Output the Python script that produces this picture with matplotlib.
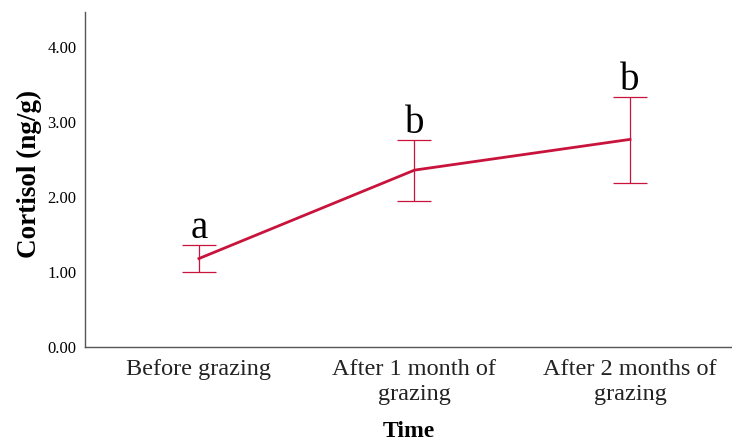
import matplotlib
matplotlib.use("Agg")
import matplotlib.pyplot as plt
import numpy as np

plt.rcParams['font.family'] = ['Liberation Serif', 'DejaVu Serif']

# data
groups = ['Before grazing', 'After 1 month of\ngrazing', 'After 2 months of\ngrazing']
cortisol_mean = [1.18, 2.36, 2.77]
ci_upper = [1.36, 2.76, 3.33]
ci_lower = [1.00, 1.95, 2.19]
letters = ['a', 'b', 'b']
yticks = [0, 1, 2, 3, 4]

x = np.arange(len(groups))
mean = np.array(cortisol_mean)
err = np.array([mean - np.array(ci_lower), np.array(ci_upper) - mean])

red = '#c8143c'

fig = plt.figure(figsize=(7.32, 4.44), dpi=100)
ax = fig.add_axes([0.116, 0.2185, 0.884, 0.7545])

ax.errorbar(x, mean, yerr=err, fmt='none', ecolor=red, elinewidth=0.9,
            capsize=12, capthick=0.9)
ax.plot(x, mean, color=red, lw=2.0)

# significance letters above the upper whiskers
for xi, top, lab in zip(x, ci_upper, letters):
    ax.text(xi, top + 0.1, lab, ha='center', va='baseline', fontsize=28)

ax.set_xlim(-0.529, 2.473)
ax.set_ylim(0, 4.47)
ax.set_yticks(yticks)
ax.set_yticklabels(['%.2f' % v for v in yticks], fontsize=12)
ax.set_xticks(x)
ax.set_xticklabels(groups, fontsize=17.5, color='#222222', linespacing=1.2)
ax.tick_params(axis='both', length=0)
ax.tick_params(axis='y', pad=6)
ax.tick_params(axis='x', pad=9)

ax.set_ylabel('Cortisol (ng/g)', fontsize=19.5, fontweight='bold')
ax.yaxis.set_label_coords(-0.066, 0.516)
ax.set_xlabel('Time', fontsize=17, fontweight='bold', labelpad=12)

for s in ['top', 'right']:
    ax.spines[s].set_visible(False)
for s in ['left', 'bottom']:
    ax.spines[s].set_color('#555555')
    ax.spines[s].set_linewidth(1.0)

fig.savefig('out.png', dpi=100)
